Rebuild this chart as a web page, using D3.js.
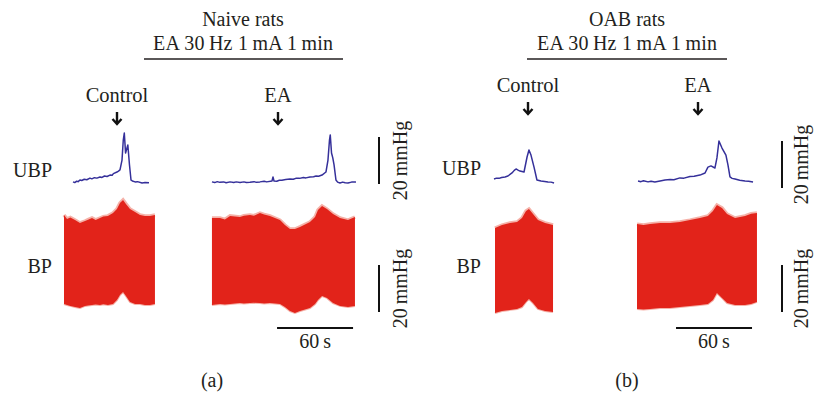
<!DOCTYPE html>
<html>
<head>
<meta charset="utf-8">
<script src="https://cdn.jsdelivr.net/npm/d3@7"></script>
<style>
  body { margin: 0; background: #fff; }
  svg text { font-family: "Liberation Serif", "Times New Roman", serif; fill: #231f20; }
</style>
</head>
<body>
<div id="chart"></div>
<script>
'use strict'

// ---------- data (time in s, pressure in mmHg) ----------
const groupTitles = ['Naive rats', 'OAB rats']
const protocolText = 'EA 30\u2009Hz 1\u2009mA 1\u2009min'
const conditions = ['Control', 'EA']
const rowLabels = ['UBP', 'BP']
const panelLabels = ['(a)', '(b)']
const pressureBarText = '20\u2009mmHg'
const timeBarText = '60\u2009s'
const pressureBar = 20   // mmHg
const timeBar = 60       // s

// bladder pressure [t, mmHg]
const ubpNaiveControl = [[7.1,0.9],[8.5,0.6],[10,1.2],[11.2,1.0],[12.6,1.7],[14,1.5],[16,2.0],[18,1.8],[20.5,2.5],[22,2.2],[24,2.7],[26,2.5],[28.4,3.0],[30,2.8],[32,3.4],[34,3.2],[36.3,3.8],[38,3.7],[39,4.4],[41.8,5.1],[43,5.5],[44.2,6.0],[45.8,10.2],[46.8,18.7],[47.6,21.7],[48.6,13.2],[50.4,16.6],[51.7,8.1],[52.9,1.7],[54,1.3],[56.1,0.9],[58,1.0],[61.6,0.4],[64,0.6],[67.1,0.5]]
const ubpNaiveEA = [[116.8,0.9],[119,0.6],[121,1.0],[123,0.7],[126,0.9],[128,0.5],[131.1,0.9],[134,0.6],[136,0.9],[139,0.6],[142,0.9],[144,0.6],[146.8,0.7],[150,1.0],[152,0.7],[154.7,0.9],[158,1.2],[160,0.9],[164.2,1.3],[165,3.0],[165.8,1.3],[168,1.2],[170,1.6],[172,1.6],[175,1.9],[178.4,2.1],[181,2.0],[183,2.4],[186,2.4],[189,2.8],[191,2.6],[194.2,3.0],[197,3.1],[199,3.4],[201,3.3],[203.7,3.8],[206.8,5.1],[208.4,10.2],[209.6,18.7],[210.2,20.9],[211.2,13.2],[212.2,11.1],[213.2,8.1],[214.7,1.7],[216,0.8],[217.9,0.4],[220,0.8],[222,0.5],[224.2,0.4],[227,0.8],[230.5,0.9]]
const ubpOABControl = [[0,3.8],[2,4.2],[4,4.1],[6,4.5],[8.7,4.7],[11,5.1],[14.2,6.4],[16,7.5],[17.4,8.1],[19,7.6],[20.5,7.2],[23.7,6.8],[26.1,13.2],[27.6,16.2],[29.2,14.0],[31.6,8.9],[33.9,3.4],[35.5,3.2],[37.1,3.0],[40,2.8],[42.6,2.6],[45,2.5],[47.4,2.1]]
const ubpOABEA = [[113.7,3.0],[116,2.7],[118,3.1],[121.6,2.6],[124,2.9],[127,2.6],[131.1,3.0],[135,3.4],[139,3.6],[142,3.5],[146.8,4.3],[150,4.2],[154.7,4.9],[158,5.0],[162.6,5.5],[166.6,6.4],[168.9,8.9],[171.3,9.4],[174.4,8.5],[176,12.8],[177.6,20.0],[180,17.0],[183.1,14.0],[184.7,9.8],[186.3,4.7],[188,4.1],[190.3,3.8],[194,3.3],[198.2,3.0],[201,2.9],[204.5,2.6]]

// arterial pressure envelope [t, systolic, diastolic]
const bpNaiveControl = [[0,121.3,83.4],[2.4,119.6,83.0],[5,120.2,82.6],[8.7,119.1,82.1],[12.6,117.9,81.7],[16.6,118.7,82.6],[19,119.3,82.8],[22.1,120.0,83.0],[25,119.2,83.2],[28.4,120.0,83.0],[31,120.6,83.3],[34.7,120.9,83.0],[38.7,122.1,83.4],[41.8,123.8,85.1],[44.2,126.4,87.2],[46.6,127.7,88.5],[48.9,126.0,86.8],[52.1,123.8,84.3],[56.1,122.6,83.4],[60.0,121.3,83.4],[63.9,120.9,83.0],[67.9,120.9,83.0],[71.8,121.3,83.4]]
const bpNaiveEA = [[116.8,120.0,83.0],[123.2,120.0,83.4],[127,119.4,83.2],[131.1,120.9,83.4],[138.9,120.4,83.8],[142,121.0,83.6],[146.8,121.3,83.8],[150,121.0,83.9],[154.7,122.1,83.8],[158,121.5,83.6],[162.6,120.9,83.8],[170.5,119.1,83.4],[174.4,117.0,82.1],[178.4,115.3,80.4],[182.3,115.3,79.6],[186.3,116.2,80.4],[194.2,118.3,81.7],[198.2,120.4,83.4],[200.5,123.4,85.1],[203.7,125.1,86.8],[207.6,123.8,86.0],[212.4,121.7,83.8],[217.9,120.0,82.6],[224.2,119.1,82.1],[229.7,120.4,82.6]]
const bpOABControl = [[0.8,115.7,79.6],[6.3,117.0,80.4],[12.6,117.9,80.9],[18.2,118.3,81.3],[22.1,120.0,82.1],[25.3,123.0,84.3],[27.6,123.8,85.5],[30.8,121.7,83.8],[34.7,119.1,81.3],[40.3,117.9,80.4],[46.6,117.0,80.0]]
const bpOABEA = [[112.9,117.4,81.3],[118,117.0,81.1],[123.2,117.4,81.3],[131.1,117.9,81.7],[138.9,117.9,81.7],[146.8,118.3,82.1],[154.7,119.1,82.6],[162.6,120.0,83.0],[168.9,120.9,83.4],[172.9,123.0,85.1],[176.0,125.5,88.1],[180.0,124.3,86.0],[184.0,121.7,83.8],[190.3,120.0,83.0],[198.2,120.9,83.0],[203,121.8,83.4],[207.6,122.1,84.3]]

const ubpTraces = [[ubpNaiveControl, ubpNaiveEA], [ubpOABControl, ubpOABEA]]
const bpTraces = [[bpNaiveControl, bpNaiveEA], [bpOABControl, bpOABEA]]
const timeBarStart = [168.2, 143.7]
const bpBarBase = 80

// ---------- layout ----------
const W = 814, H = 396
const pxPerSec = 76 / 60
const pxPerMmHg = 47 / 20

const layout = [
    {x0: 64, cx: 243, ul: [144, 343], condY: 102, condX: [117, 278], ubpZero: 184, ubpLabelY: 177,
     rowLabelX: 52, barX: 379, barLabelX: 407, labelX: 212},
    {x0: 494, cx: 627, ul: [527, 727], condY: 92, condX: [528, 698], ubpZero: 188, ubpLabelY: 175,
     rowLabelX: 481, barX: 782, barLabelX: 808, labelX: 627}
]
const bp80Y = 312

const svg = d3.select('#chart').append('svg')
    .attr('width', W)
    .attr('height', H)

layout.forEach((p, i) => {
    const g = svg.append('g')

    // scales
    const x = d3.scaleLinear().domain([0, 60]).range([p.x0, p.x0 + 60 * pxPerSec])
    const yU = d3.scaleLinear().domain([0, 20]).range([p.ubpZero, p.ubpZero - 20 * pxPerMmHg])
    const yB = d3.scaleLinear().domain([80, 100]).range([bp80Y, bp80Y - 20 * pxPerMmHg])

    // titles
    g.append('text').attr('x', p.cx).attr('y', 26).attr('text-anchor', 'middle')
        .style('font-size', '20px').text(groupTitles[i])
    g.append('text').attr('x', p.cx).attr('y', 50).attr('text-anchor', 'middle')
        .style('font-size', '20px').attr('textLength', 180).attr('lengthAdjust', 'spacing')
        .text(protocolText)
    g.append('line')
        .attr('x1', p.ul[0]).attr('x2', p.ul[1]).attr('y1', 59).attr('y2', 59)
        .attr('stroke', '#231f20').attr('stroke-width', 1.6)

    // condition labels + arrows
    conditions.forEach((c, j) => {
        const cx = p.condX[j]
        g.append('text').attr('x', cx).attr('y', p.condY).attr('text-anchor', 'middle')
            .style('font-size', '20.5px').text(c)
        const top = p.condY + 10, bot = p.condY + 22
        g.append('path')
            .attr('d', `M${cx},${top}L${cx},${bot}M${cx - 4.5},${bot - 5}L${cx},${bot}L${cx + 4.5},${bot - 5}`)
            .attr('fill', 'none').attr('stroke', '#111').attr('stroke-width', 2.4)
    })

    // row labels
    g.append('text').attr('x', p.rowLabelX).attr('y', p.ubpLabelY).attr('text-anchor', 'end')
        .style('font-size', '20px').text(rowLabels[0])
    g.append('text').attr('x', p.rowLabelX).attr('y', 273).attr('text-anchor', 'end')
        .style('font-size', '20px').text(rowLabels[1])

    // bladder pressure traces
    const line = d3.line().x(d => x(d[0])).y(d => yU(d[1]))
    ubpTraces[i].forEach(tr => {
        g.append('path').attr('d', line(tr))
            .attr('fill', 'none').attr('stroke', '#35309a').attr('stroke-width', 1.5)
            .attr('stroke-linejoin', 'round')
    })

    // blood pressure envelopes (pale fringe behind the solid fill)
    const area = d3.area().x(d => x(d[0])).y0(d => yB(d[2])).y1(d => yB(d[1]))
    const edge = d3.line().x(d => x(d[0])).y(d => yB(d[1]))
    const edgeLow = d3.line().x(d => x(d[0])).y(d => yB(d[2]))
    bpTraces[i].forEach(tr => {
        g.append('path').attr('d', edge(tr)).attr('fill', 'none')
            .attr('stroke', '#f5b2a9').attr('stroke-width', 3.5).attr('stroke-linecap', 'butt')
        g.append('path').attr('d', edgeLow(tr)).attr('fill', 'none')
            .attr('stroke', '#f5b2a9').attr('stroke-width', 2).attr('stroke-linecap', 'butt')
        g.append('path').attr('d', area(tr)).attr('fill', '#e2231a')
    })

    // pressure scale bars
    const bars = [[yU(0), yU(pressureBar)], [yB(bpBarBase), yB(bpBarBase + pressureBar)]]
    bars.forEach(b => {
        g.append('line').attr('x1', p.barX).attr('x2', p.barX).attr('y1', b[0]).attr('y2', b[1])
            .attr('stroke', '#111').attr('stroke-width', 2)
        const cy = (b[0] + b[1]) / 2
        g.append('text')
            .attr('transform', `translate(${p.barLabelX},${cy}) rotate(-90)`)
            .attr('text-anchor', 'middle')
            .style('font-size', '20px').text(pressureBarText)
    })

    // time scale bar
    const t0 = timeBarStart[i]
    g.append('line').attr('x1', x(t0)).attr('x2', x(t0 + timeBar)).attr('y1', 328).attr('y2', 328)
        .attr('stroke', '#111').attr('stroke-width', 2)
    g.append('text').attr('x', x(t0 + timeBar / 2)).attr('y', 348).attr('text-anchor', 'middle')
        .style('font-size', '20px').text(timeBarText)

    // panel label
    g.append('text').attr('x', p.labelX).attr('y', 387).attr('text-anchor', 'middle')
        .style('font-size', '20px').text(panelLabels[i])
})
</script>
</body>
</html>
